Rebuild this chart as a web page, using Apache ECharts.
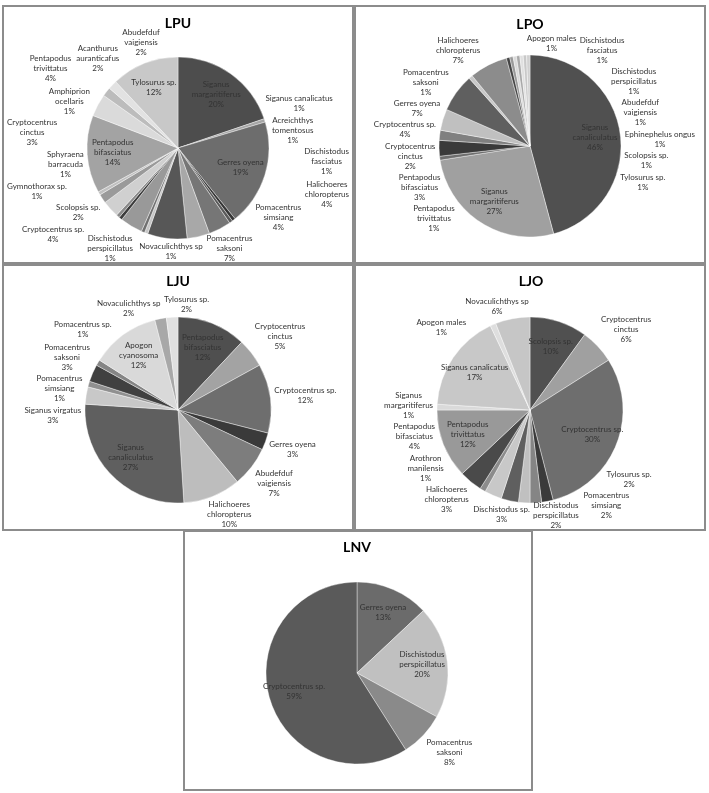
<!DOCTYPE html>
<html>
<head>
<meta charset="utf-8">
<script src="https://cdn.jsdelivr.net/npm/echarts/dist/echarts.min.js"></script>
<style>
html,body{margin:0;padding:0;background:#fff;}
#c{width:709px;height:793px;}
</style>
</head>
<body>
<div id="c"></div>
<script>
// ---------------- DATA ----------------
const lpuCategories = ['Siganus\nmargaritiferus','Siganus canalicatus','Gerres oyena','Acreichthys\ntomentosus','Dischistodus\nfasciatus','Halichoeres\nchloropterus','Pomacentrus\nsimsiang','Pomacentrus\nsaksoni','Novaculichthys sp','Dischistodus\nperspicillatus','Cryptocentrus sp.','Gymnothorax sp.','Sphyraena\nbarracuda','Cryptocentrus\ncinctus','Scolopsis sp.','Amphiprion\nocellaris','Pentapodus\nbifasciatus','Pentapodus\ntrivittatus','Acanthurus\nauranticafus','Abudefduf\nvaigiensis','Tylosurus sp.'];
const lpuValues = [19.8,0.6,18.8,0.6,0.6,4.0,4.0,7.0,0.6,0.6,4.0,0.6,0.6,3.0,1.6,0.6,13.8,4.0,1.6,1.6,12.0];

const lpoCategories = ['Siganus\ncanaliculatus','Siganus\nmargaritiferus','Pentapodus\ntrivittatus','Pentapodus\nbifasciatus','Cryptocentrus\ncinctus','Cryptocentrus sp.','Gerres oyena','Pomacentrus\nsaksoni','Halichoeres\nchloropterus','Apogon males','Dischistodus\nfasciatus','Dischistodus\nperspicillatus','Abudefduf\nvaigiensis','Ephinephelus ongus','Scolopsis sp.','Tylosurus sp.'];
const lpoValues = [46.0,26.8,0.7,2.8,1.8,3.8,6.8,0.7,6.8,0.6,0.6,0.6,0.6,0.6,0.6,0.6];

const ljuCategories = ['Pentapodus\nbifasciatus','Cryptocentrus\ncinctus','Cryptocentrus sp.','Gerres oyena','Abudefduf\nvaigiensis','Halichoeres\nchloropterus','Siganus\ncanaliculatus','Siganus virgatus','Pomacentrus\nsimsiang','Pomacentrus\nsaksoni','Pomacentrus sp.','Apogon\ncyanosoma','Novaculichthys sp','Tylosurus sp.'];
const ljuValues = [12,5,12,3,7,10,27,3,1,3,1,12,2,2];

const ljoCategories = ['Scolopsis sp.','Cryptocentrus\ncinctus','Cryptocentrus sp.','Tylosurus sp.','Pomacentrus\nsimsiang','Dischistodus\nperspicillatus','Dischistodus sp.','Halichoeres\nchloropterus','Arothron\nmanilensis','Pentapodus\nbifasciatus','Pentapodus\ntrivittatus','Siganus\nmargaritiferus','Siganus canalicatus','Apogon males','Novaculichthys sp'];
const ljoValues = [10,6,30,2,2,2,3,3,1,4,12,1,17,1,6];

const lnvCategories = ['Gerres oyena','Dischistodus\nperspicillatus','Pomacentrus\nsaksoni','Cryptocentrus sp.'];
const lnvValues = [13,20,8,59];

const chartTitles = ['LPU','LPO','LJU','LJO','LNV'];

// ---------------- STYLE / LAYOUT ----------------
const panels = [
  {categories: lpuCategories, values: lpuValues, rect:[3,6,350,257], center:[178,148], r:91, title:[178,23], inside:[0,2,16,20], titleDir:0, radial:true,
   colors:['#4d4d4d','#a6a6a6','#6d6d6d','#363636','#5a5a5a','#767676','#a8a8a8','#575757','#c6c6c6','#707070','#999999','#3c3c3c','#8a8a8a','#d0d0d0','#9a9a9a','#c0c0c0','#a3a3a3','#dadada','#bcbcbc','#e2e2e2','#c8c8c8']},
  {categories: lpoCategories, values: lpoValues, rect:[355,6,350,257], center:[530,146], r:91, title:[530,24], inside:[0,1], titleDir:1, radial:false,
   colors:['#505050','#a0a0a0','#6e6e6e','#3a3a3a','#808080','#c0c0c0','#5f5f5f','#c8c8c8','#8c8c8c','#444444','#999999','#dadada','#a8a8a8','#e0e0e0','#c8c8c8','#d0d0d0']},
  {categories: ljuCategories, values: ljuValues, rect:[3,265,350,265], center:[178,410], r:93, title:[178,281], inside:[0,6,11], titleDir:0, radial:false,
   colors:['#4f4f4f','#a3a3a3','#6e6e6e','#3a3a3a','#7d7d7d','#bdbdbd','#5f5f5f','#c8c8c8','#909090','#404040','#858585','#d9d9d9','#a8a8a8','#e0e0e0']},
  {categories: ljoCategories, values: ljoValues, rect:[355,265,350,265], center:[530,410], r:93, title:[531,281], inside:[0,2,10,12], titleDir:0, radial:true,
   colors:['#505050','#a0a0a0','#6e6e6e','#3a3a3a','#858585','#c0c0c0','#5f5f5f','#c8c8c8','#8c8c8c','#4a4a4a','#999999','#dadada','#c8c8c8','#dedede','#c6c6c6']},
  {categories: lnvCategories, values: lnvValues, rect:[184,531,348,259], center:[357,673], r:91, title:[357,547], inside:[0,1,3], titleDir:0, radial:false,
   colors:['#6b6b6b','#c0c0c0','#8a8a8a','#5a5a5a']}
];

const FONT = 'Lato';
const FS = 8, LH = 10;
const mctx = document.createElement('canvas').getContext('2d');
mctx.font = FS + 'px ' + FONT;
function measure(text){
  const lines = text.split('\n'); let w = 0;
  lines.forEach(l => { w = Math.max(w, mctx.measureText(l).width); });
  return {w: w + 2, h: lines.length * LH};
}
function wrapDiff(a, b){ return (((a - b) % 360) + 540) % 360 - 180; }

function layoutPie(p){
  const vals = p.values, sum = vals.reduce((a,b)=>a+b,0);
  let acc = 0; const mids = [];
  vals.forEach(v => { mids.push((acc + v/2) / sum * 360); acc += v; });
  const texts = vals.map((v,i) => p.categories[i] + '\n' + Math.round(v/sum*100) + '%');
  const sizes = texts.map(measure);
  const cx = p.center[0], cy = p.center[1], r = p.r;
  const [bx,by,bw,bh] = p.rect;
  const x0 = bx+3, x1 = bx+bw-3, y0 = by+3, y1 = by+bh;
  const res = new Array(vals.length);
  const ins = new Set(p.inside);
  const outs = [];
  vals.forEach((v,i) => {
    const t = mids[i]*Math.PI/180;
    if (ins.has(i)) res[i] = {x: cx + 0.72*r*Math.sin(t), y: cy - 0.72*r*Math.cos(t)};
    else outs.push(i);
  });
  const sg = t => Math.max(-1, Math.min(1, t*2));
  const GAP = 3;
  function place(i, angDeg, e){
    const a = angDeg*Math.PI/180, ux = Math.sin(a), uy = -Math.cos(a);
    const w = sizes[i].w, h = sizes[i].h;
    let X = cx + (r+GAP+e)*ux + w/2*sg(ux), Y = cy + (r+GAP+e)*uy + h/2*sg(uy);
    let clamp = null;
    if (X - w/2 < x0) { X = x0 + w/2; clamp = 'L'; }
    if (X + w/2 > x1) { X = x1 - w/2; clamp = 'R'; }
    if (Y - h/2 < y0) { Y = y0 + h/2; clamp = 'T'; }
    if (Y + h/2 > y1) { Y = y1 - h/2; clamp = 'B'; }
    return {X, Y, w, h, clamp};
  }
  const ov = (a,b,pad) => Math.abs(a.X-b.X) < (a.w+b.w)/2 + pad && Math.abs(a.Y-b.Y) < (a.h+b.h)/2 + pad;
  const pen = (b, tol) => {
    const nx = Math.max(b.X-b.w/2, Math.min(cx, b.X+b.w/2));
    const ny = Math.max(b.Y-b.h/2, Math.min(cy, b.Y+b.h/2));
    return Math.hypot(nx-cx, ny-cy) < r - tol;
  };
  const titleBox = {X: p.title[0], Y: p.title[1], w: 32, h: 16};

  const ang = {}, ext = {};
  outs.forEach(i => { ang[i] = mids[i]; ext[i] = 0; });
  const st = 0.5, EMAX = 55;
  for (let it = 0; it < 1400; it++){
    const B = {}; outs.forEach(i => B[i] = place(i, ang[i], ext[i]));
    let moved = false;
    const hit = {};
    for (let m = 0; m < outs.length; m++) for (let n = m+1; n < outs.length; n++){
      const i = outs[m], j = outs[n];
      if (ov(B[i], B[j], 1)){
        const d = wrapDiff(ang[j], ang[i]);
        if (d >= 0) { ang[i] -= st; ang[j] += st; } else { ang[i] += st; ang[j] -= st; }
        if (p.radial){
          const o = ext[i] > ext[j] ? i : j;
          ext[o] = Math.min(EMAX, ext[o] + 1);
        }
        hit[i] = hit[j] = true;
        moved = true;
      }
    }
    outs.forEach(i => {
      const b = B[i];
      if (p.radial && !hit[i] && it < 900) ext[i] = Math.max(0, ext[i] - 0.25);
      if (pen(b, 7)){
        const c = b.clamp;
        const normal = c==='B'?180:c==='T'?0:c==='L'?270:c==='R'?90:null;
        if (normal !== null){ ang[i] += wrapDiff(ang[i], normal) >= 0 ? st : -st; moved = true; }
      }
      if (ov(b, titleBox, 1)){
        const dir = p.titleDir ? p.titleDir : (wrapDiff(ang[i], 0) >= 0 ? 1 : -1);
        ang[i] += dir*st; moved = true;
      }
    });
    if (!moved && it > 900) break;
  }
  outs.forEach(i => { const b = place(i, ang[i], ext[i]); res[i] = {x: b.X, y: b.Y}; });
  return {texts, pos: res};
}

const layouts = panels.map(layoutPie);

const chart = echarts.init(document.getElementById('c'), null, {renderer:'canvas'});
const graphics = [];
panels.forEach((p, k) => {
  graphics.push({type:'rect', z: 1, shape:{x:p.rect[0], y:p.rect[1], width:p.rect[2], height:p.rect[3]},
    style:{fill:'none', stroke:'#8c8c8c', lineWidth:2}});
  graphics.push({type:'text', z: 10, x:p.title[0], y:p.title[1],
    style:{text: chartTitles[k], fill:'#000', font:'bold 14px Lato', align:'center', verticalAlign:'middle'}});
});

chart.setOption({
  backgroundColor:'#fff',
  animation:false,
  graphic: graphics,
  series: panels.map((p, k) => ({
    type:'pie',
    center: p.center,
    radius: p.r,
    startAngle: 90,
    clockwise: true,
    avoidLabelOverlap: false,
    silent: true,
    minShowLabelAngle: 0,
    itemStyle:{borderColor:'#ffffff', borderWidth:0.4},
    label:{show:true, position:'inside', fontFamily:FONT, fontSize:FS, lineHeight:LH, color:'#333', align:'center',
      formatter: prm => layouts[k].texts[prm.dataIndex]},
    labelLine:{show:false},
    labelLayout: prm => {
      const L = layouts[prm.seriesIndex].pos[prm.dataIndex];
      return {x: L.x, y: L.y, align:'center', verticalAlign:'middle'};
    },
    emphasis:{disabled:true},
    data: p.values.map((v,i) => ({name: p.categories[i].replace(/\n/g,' '), value: v, itemStyle:{color: p.colors[i]}}))
  }))
});
</script>
</body>
</html>
